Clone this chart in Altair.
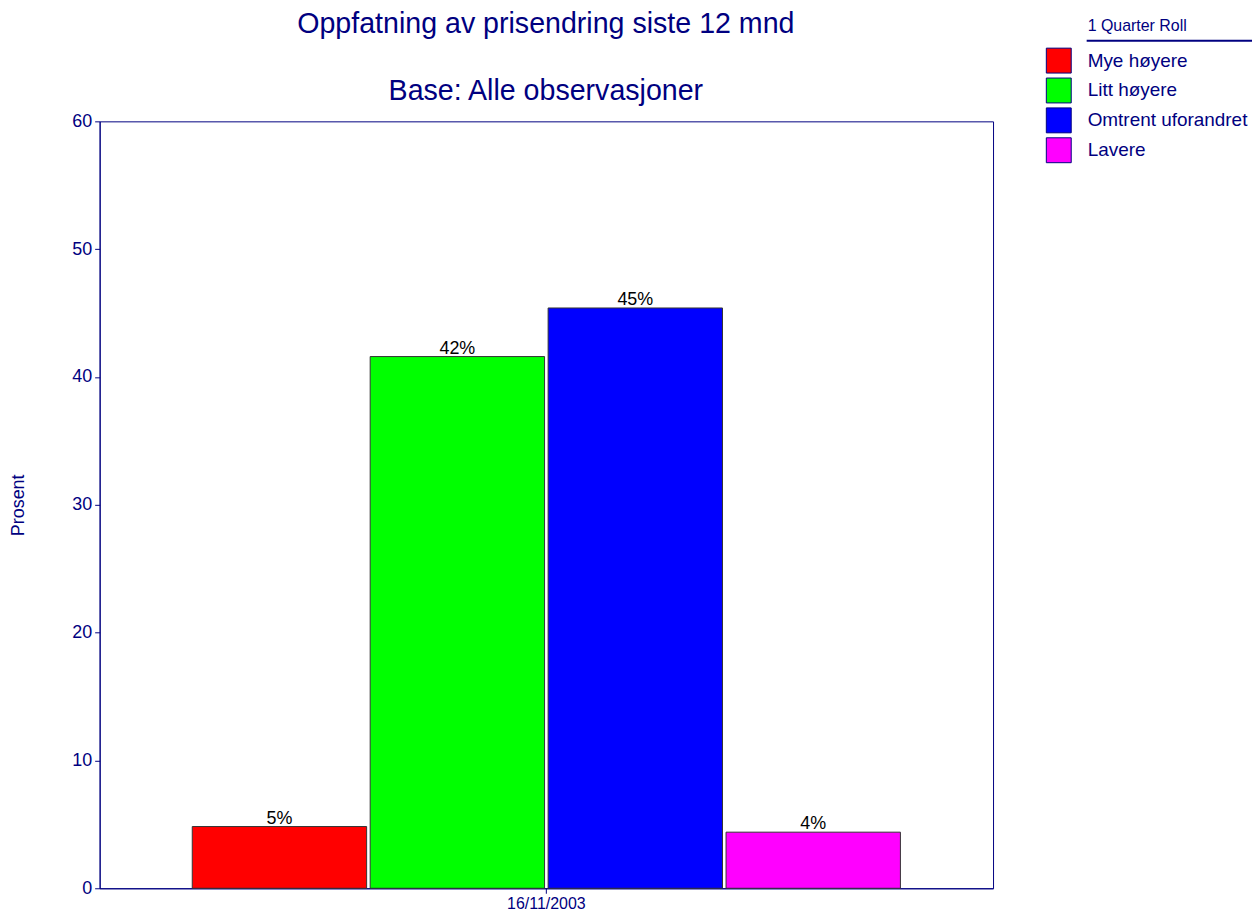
import altair as alt
import pandas as pd

series = ["Mye høyere", "Litt høyere", "Omtrent uforandret", "Lavere"]
values = [4.83, 41.6, 45.4, 4.39]
labels = ["5%", "42%", "45%", "4%"]
colors = ["#FF0000", "#00FF00", "#0000FF", "#FF00FF"]
period = ["16/11/2003"] * 4
title_main = ["Oppfatning av prisendring siste 12 mnd"]
title_sub = ["Base: Alle observasjoner"]
legend_title = ["1 Quarter Roll"]

NAVY = "#000080"
FONT = "Liberation Sans"

df = pd.DataFrame({"period": period, "series": series, "value": values, "label": labels})

x_enc = alt.X("period:N", title=None,
              scale=alt.Scale(paddingInner=0, paddingOuter=0.1308),
              axis=alt.Axis(labelAngle=0, labelFontSize=16, labelColor=NAVY, labelFont=FONT,
                            tickColor=NAVY, tickSize=5, labelPadding=2, domainColor=NAVY))
xo_enc = alt.XOffset("series:N", sort=series,
                     scale=alt.Scale(paddingInner=0.02, paddingOuter=0))
y_enc = alt.Y("value:Q", title="Prosent",
              scale=alt.Scale(domain=[0, 60], nice=False),
              axis=alt.Axis(values=[0, 10, 20, 30, 40, 50, 60], grid=False,
                            labelFontSize=18, labelColor=NAVY, labelFont=FONT,
                            tickColor=NAVY, tickSize=5, labelPadding=3, domainColor=NAVY,
                            titleFontSize=18, titleFont=FONT, titleColor=NAVY,
                            titleFontWeight="normal", titleX=-72, titleY=385))

base = alt.Chart(df)

bars = base.mark_bar(stroke="#333333", strokeWidth=1).encode(
    x=x_enc, xOffset=xo_enc, y=y_enc,
    color=alt.Color("series:N", sort=series,
                    scale=alt.Scale(domain=series, range=colors),
                    legend=alt.Legend(title=None, orient="none", legendX=950, legendY=-74,
                                      symbolType="square", symbolSize=625,
                                      symbolStrokeColor=NAVY, symbolStrokeWidth=1,
                                      symbolOpacity=1, labelFontSize=19, labelColor=NAVY,
                                      labelFont=FONT, labelOffset=16, labelLimit=300,
                                      rowPadding=0, padding=0)),
)

text = base.mark_text(dy=-3, baseline="alphabetic", fontSize=18, font=FONT, color="black").encode(
    x=x_enc, xOffset=xo_enc, y=y_enc, text="label:N"
)

title1 = alt.Chart(pd.DataFrame({"t": title_main})).mark_text(
    align="center", baseline="middle", fontSize=28.7, font=FONT, color=NAVY
).encode(x=alt.value(448), y=alt.value(-98), text="t:N")

title2 = alt.Chart(pd.DataFrame({"t": title_sub})).mark_text(
    align="center", baseline="middle", fontSize=28.7, font=FONT, color=NAVY
).encode(x=alt.value(448), y=alt.value(-30), text="t:N")

leg_title = alt.Chart(pd.DataFrame({"t": legend_title})).mark_text(
    align="left", baseline="middle", fontSize=16, font=FONT, color=NAVY
).encode(x=alt.value(992), y=alt.value(-96), text="t:N")

leg_rule = alt.Chart(pd.DataFrame({"t": [1]})).mark_rule(color=NAVY, strokeWidth=2).encode(
    x=alt.value(991), x2=alt.value(1165), y=alt.value(-81)
)

chart = alt.layer(bars, text, title1, title2, leg_title, leg_rule).properties(
    width=897, height=770,
    autosize=alt.AutoSizeParams(type="none"),
    padding={"left": 92, "top": 112, "right": 260, "bottom": 22},
    background="white",
).configure_view(stroke=NAVY, strokeWidth=1)

chart.save("out.html", embed_options={"renderer": "svg", "actions": False})
